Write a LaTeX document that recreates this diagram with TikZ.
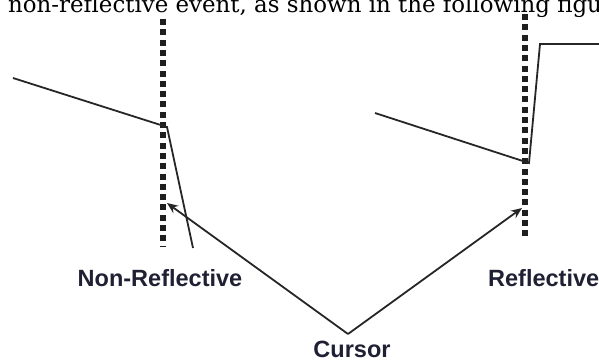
\documentclass[tikz,border=0pt]{standalone}
\usepackage{fontspec}
\setsansfont{Liberation Sans}
\newfontfamily\bodyserif{DejaVu Serif}
\usetikzlibrary{arrows.meta,positioning}

\definecolor{inkdark}{RGB}{32,32,52}

\begin{document}
\begin{tikzpicture}[
  x=1pt,
  y=-1pt,
  line join=miter,
  >={Stealth[length=11pt,width=9pt]},
  cursorline/.style={
    draw=black!88,
    line width=5.5pt,
    dash pattern=on 6pt off 4.3pt
  },
  trace/.style={
    draw=black!85,
    line width=1.8pt
  },
  pointer/.style={
    ->,
    draw=black!85,
    line width=1.8pt
  },
  lbl/.style={
    font=\sffamily\bfseries\fontsize{23.5}{26}\selectfont,
    text=inkdark,
    inner sep=0pt
  }
]
\useasboundingbox (0,0) rectangle (599,360);
\clip (0,0) rectangle (599,360);

% line of running text cut by the top edge
\node[anchor=base west, inner sep=0pt,
      font=\bodyserif\fontsize{22.9}{27}\selectfont] (caption) at (8,12)
  {non-reflective event, as shown in the following figure};

% cursor positions
\coordinate (nrtop) at (163,19);
\coordinate (nrbot) at (163,247);
\coordinate (rtop)  at (525,14);
\coordinate (rbot)  at (525,240);
\draw[cursorline] (nrtop) -- (nrbot);
\draw[cursorline] (rtop) -- (rbot);

% traces
\draw[trace] (13,78) -- (167,127) -- (193,248);
\draw[trace] (375,113) -- (529,163) -- (540,44) -- (605,44);

\node[lbl] (nonrefl) at (160,278) {Non-Reflective};
\node[lbl, anchor=west] (refl) at (488,278) {Reflective};
\node[lbl] (cursor) at (352,349) {Cursor};

\coordinate (vtx)  at (348,334);
\coordinate (nrtip) at (167,203);
\coordinate (rtip)  at (522,208);
\draw[pointer] (vtx) -- (nrtip);
\draw[pointer] (vtx) -- (rtip);

\end{tikzpicture}
\end{document}
